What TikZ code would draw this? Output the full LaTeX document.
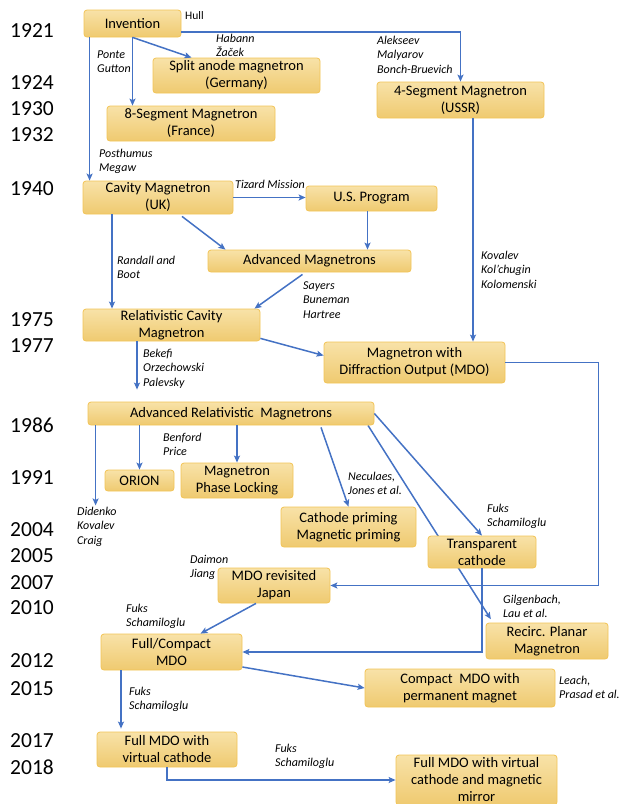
\documentclass[tikz,border=0pt]{standalone}
\usepackage{fontspec}
\setmainfont{Carlito}
\usetikzlibrary{arrows.meta, calc, backgrounds}
\definecolor{boxtop}{RGB}{248,226,168}
\definecolor{boxbot}{RGB}{239,202,112}
\definecolor{boxedge}{RGB}{242,196,86}
\definecolor{linkblue}{RGB}{68,114,196}
\tikzset{
  evnode/.style={rounded corners=3pt, draw=boxedge, line width=0.8pt, top color=boxtop, bottom color=boxbot, align=center, font=\fontsize{14.5}{17}\selectfont, inner sep=1pt},
  whonode/.style={anchor=base west, align=left, inner sep=1pt, font=\fontsize{12}{14.7}\selectfont\itshape},
  yearnode/.style={anchor=west, inner sep=0pt, font=\fontsize{21.5}{21.5}\selectfont},
  link/.style={-{Stealth[length=7pt, width=6pt, inset=1.5pt]}, line width=1.5pt, linkblue},
}

\begin{document}
\begin{tikzpicture}[x=1pt, y=-1pt]
  \useasboundingbox (0,0) rectangle (620,804);
  % years
  \foreach \yr/\ypos in {1921/30.5, 1924/83, 1930/109, 1932/135, 1940/189, 1975/320, 1977/346, 1986/425, 1991/478, 2004/530, 2005/556, 2007/583, 2010/608, 2012/661, 2015/689, 2017/741, 2018/767}
    \node[yearnode] at (10,\ypos) {\yr};

  \node[evnode, minimum width=97pt, minimum height=27pt] (inv) at (132.5,23.5) {Invention};
  \node[evnode, minimum width=167pt, minimum height=35pt] (split) at (236.5,75.5) {Split anode magnetron\\(Germany)};
  \node[evnode, minimum width=168pt, minimum height=35pt] (segeight) at (191,123.5) {8-Segment Magnetron\\(France)};
  \node[evnode, minimum width=167pt, minimum height=36pt] (segfour) at (460.5,100) {4-Segment Magnetron\\(USSR)};
  \node[evnode, minimum width=150pt, minimum height=33pt] (cavity) at (158,197.5) {Cavity Magnetron\\(UK)};
  \node[evnode, minimum width=131pt, minimum height=25pt] (usprog) at (371.5,198.5) {U.S. Program};
  \node[evnode, minimum width=203pt, minimum height=22pt] (advmag) at (309.5,261) {Advanced Magnetrons};
  \node[evnode, minimum width=177pt, minimum height=32pt] (relcav) at (171.5,325) {Relativistic Cavity\\Magnetron};
  \node[evnode, minimum width=181pt, minimum height=41pt] (mdo) at (414.5,362.5) {Magnetron with\\Diffraction Output (MDO)};
  \node[evnode, minimum width=286pt, minimum height=23pt] (arm) at (231,413.5) {Advanced Relativistic\ \ Magnetrons};
  \node[evnode, minimum width=69pt, minimum height=21pt] (orion) at (139.5,480.5) {ORION};
  \node[evnode, minimum width=112pt, minimum height=35pt] (phaselock) at (237,480.5) {Magnetron\\Phase Locking};
  \node[evnode, minimum width=135pt, minimum height=40pt] (priming) at (348.5,527) {Cathode priming\\Magnetic priming};
  \node[evnode, minimum width=108pt, minimum height=32pt] (transp) at (482,552) {Transparent\\cathode};
  \node[evnode, minimum width=112pt, minimum height=35pt] (mdorev) at (274,585.5) {MDO revisited\\Japan};
  \node[evnode, minimum width=122pt, minimum height=36pt] (recirc) at (547,641) {Recirc. Planar\\Magnetron};
  \node[evnode, minimum width=141pt, minimum height=36pt] (fullcomp) at (171.5,652) {Full/Compact\\MDO};
  \node[evnode, minimum width=190pt, minimum height=38pt] (comperm) at (460,688) {Compact\ \ MDO with\\permanent magnet};
  \node[evnode, minimum width=140pt, minimum height=35pt] (fullvirt) at (167,749.5) {Full MDO with\\virtual cathode};
  \node[evnode, minimum width=161pt, minimum height=50pt] (fullmirror) at (476.5,780) {Full MDO with virtual\\cathode and magnetic\\mirror};

  % who (placed at baseline of last line)
  \node[whonode, font=\fontsize{11.5}{14.7}\selectfont] (hull) at (184,19) {Hull};
  \node[whonode] (habann) at (215,56.7) {Habann\\Žaček};
  \node[whonode] (ponte) at (96,72.7) {Ponte\\Gutton};
  \node[whonode] (alekseev) at (376,73.4) {Alekseev\\Malyarov\\Bonch-Bruevich};
  \node[whonode] (posthumus) at (98,171.7) {Posthumus\\Megaw};
  \node[whonode] (tizard) at (234,188) {Tizard Mission};
  \node[whonode] (randall) at (116,278.7) {Randall and\\Boot};
  \node[whonode] (sayers) at (302,318.4) {Sayers\\Buneman\\Hartree};
  \node[whonode] (kovalev) at (480,288.4) {Kovalev\\Kol’chugin\\Kolomenski};
  \node[whonode] (bekefi) at (142,386.4) {Bekefi\\Orzechowski\\Palevsky};
  \node[whonode] (benford) at (162,455.7) {Benford\\Price};
  \node[whonode] (didenko) at (76,544.4) {Didenko\\Kovalev\\Craig};
  \node[whonode] (neculaes) at (347,494.7) {Neculaes,\\Jones et al.};
  \node[whonode] (fuksa) at (486,526.7) {Fuks\\Schamiloglu};
  \node[whonode] (daimon) at (189,577.7) {Daimon\\Jiang};
  \node[whonode] (gilgenbach) at (502,617.7) {Gilgenbach,\\Lau et al.};
  \node[whonode] (fuksb) at (125,626.7) {Fuks\\Schamiloglu};
  \node[whonode] (leach) at (558,698.7) {Leach,\\Prasad et al.};
  \node[whonode] (fuksc) at (128,709.7) {Fuks\\Schamiloglu};
  \node[whonode] (fuksd) at (274,766.7) {Fuks\\Schamiloglu};

  \draw[link] (inv.south) -- ([xshift=-45pt]split.north);
  \draw[link] (inv.south) -- (inv.south |- segeight.north);
  \draw[link] ([xshift=6pt]inv.south west) -- ([xshift=6pt]inv.south west |- cavity.north);
  \draw[link] ([yshift=-8.5pt]inv.east) -| (segfour.north);
  \draw[link] ([xshift=12.5pt]segfour.south) -- ([xshift=12.5pt]segfour.south |- mdo.north);
  \draw[link] (cavity.east) -- (cavity.east -| usprog.west);
  \draw[link] ([xshift=24pt, yshift=-2pt]cavity.south) -- ([xshift=-84pt]advmag.north);
  \draw[link] ([xshift=-46pt]cavity.south) -- ([xshift=-46pt]cavity.south |- relcav.north);
  \draw[link] ([xshift=-4pt]usprog.south) -- ([xshift=-4pt]usprog.south |- advmag.north);
  \draw[link] ([xshift=-7pt, yshift=-2pt]advmag.south) -- ([xshift=83pt]relcav.north);
  \draw[link] ([yshift=3pt]relcav.south east) -- ([yshift=7pt]mdo.west);
  \draw[link, shorten >=12pt] ([xshift=-34.5pt]relcav.south) -- ([xshift=-34.5pt]relcav.south |- arm.north);
  \draw[link] (mdo.east) -- ++(93pt,0) |- (mdorev.east);
  \draw[link] ([xshift=8pt]arm.south west) -- ([xshift=8pt]arm.south west |- didenko.north);
  \draw[link] (orion.north |- arm.south) -- (orion.north);
  \draw[link] (phaselock.north |- arm.south) -- (phaselock.north);
  \draw[link] ([xshift=90pt, yshift=-2pt]arm.south) -- (priming.north);
  \draw[link] (arm.east) -- (transp.north);
  \begin{scope}[on background layer]
    \draw[link, shorten >=4pt] ([xshift=137pt]arm.south) -- ([xshift=-54pt]recirc.north);
  \end{scope}
  \draw[link] (transp.south) |- (fullcomp.east);
  \draw[link] ([xshift=-18pt]mdorev.south) -- ([xshift=29pt]fullcomp.north);
  \draw[link] ([yshift=-15pt]fullcomp.east) -- (comperm.west);
  \draw[link, shorten >=3pt] ([xshift=-50.5pt]fullcomp.south) -- ([xshift=-50.5pt]fullcomp.south |- fullvirt.north);
  \draw[link] (fullvirt.south) |- (fullmirror.west);
\end{tikzpicture}
\end{document}
